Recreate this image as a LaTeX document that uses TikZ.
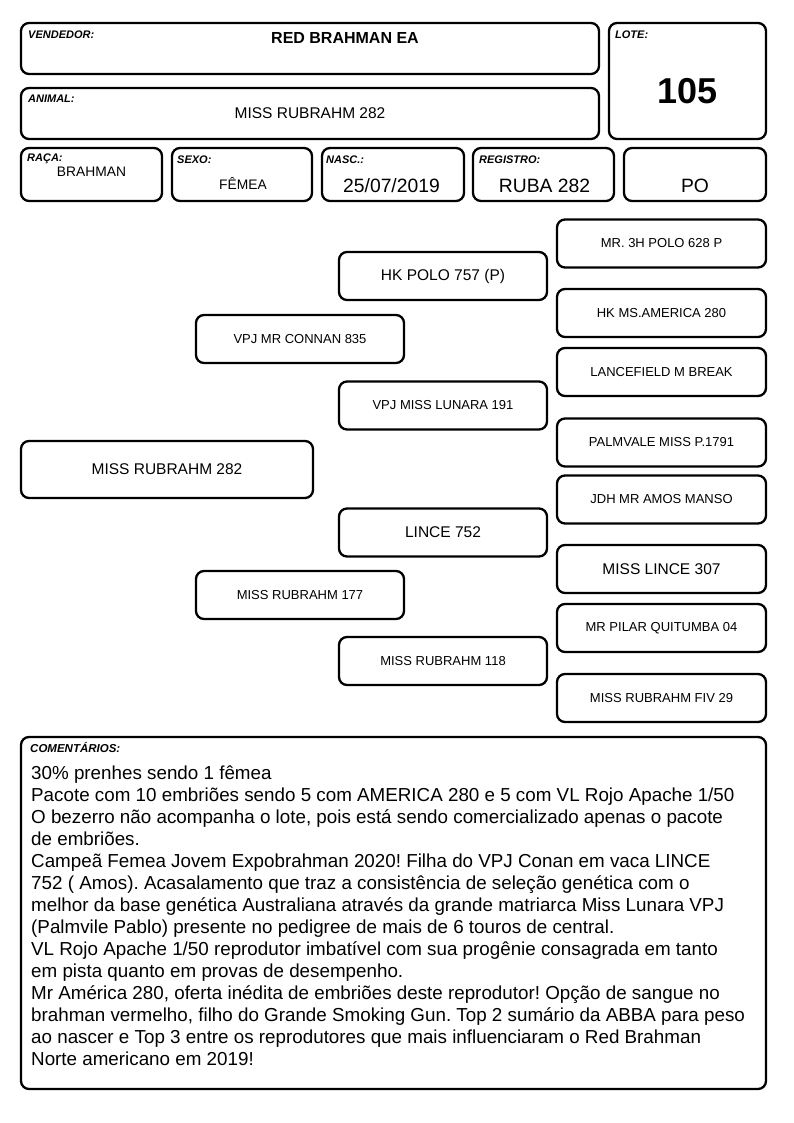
\documentclass[tikz,border=0pt]{standalone}
\usepackage{fontspec}
\setmainfont{Liberation Sans}
\usetikzlibrary{positioning}
\frenchspacing

\tikzset{
  caixa/.style={draw, line width=2.3pt, rounded corners=8pt,
    inner sep=0pt, outer sep=0pt},
  rotulo/.style={anchor=base west, inner sep=0pt,
    font=\fontsize{11}{13}\selectfont\bfseries\itshape},
  valor/.style={inner sep=0pt, font=\fontsize{19.3}{22}\selectfont},
  ped/.style={caixa, minimum width=208pt, minimum height=48pt,
    font=\fontsize{13}{15}\selectfont},
  pedg/.style={ped, font=\fontsize{15.5}{18}\selectfont},
}

\begin{document}
\begin{tikzpicture}[x=1pt,y=-1pt]
    \useasboundingbox (0,0) rectangle (794,1123);
    % cabecalho
    \node[caixa, minimum width=578pt, minimum height=51pt] (vendedor) at (310,48.5) {};
    \node[caixa, minimum width=157pt, minimum height=116pt] (lote) at (687.5,81) {};
    \node[caixa, minimum width=578pt, minimum height=51pt] (animal) at (310,113.5) {};
    \node[caixa, minimum width=141pt, minimum height=53pt] (raca) at (91.5,174.5) {};
    \node[caixa, minimum width=140pt, minimum height=53pt] (sexo) at (242,174.5) {};
    \node[caixa, minimum width=142pt, minimum height=53pt] (nasc) at (393,174.5) {};
    \node[caixa, minimum width=141pt, minimum height=53pt] (registro) at (543.5,174.5) {};
    \node[caixa, minimum width=142pt, minimum height=53pt] (po) at (695,174.5) {};
    %
    \node[rotulo] (lvendedor) at (28,38.5) {VENDEDOR:};
    \node[rotulo] (llote) at (615,38.5) {LOTE:};
    \node[rotulo] (lanimal) at (28,102.5) {ANIMAL:};
    \node[rotulo] (lraca) at (27,162) {RAÇA:};
    \node[rotulo] (lsexo) at (177,163.5) {SEXO:};
    \node[rotulo] (lnasc) at (326,163.5) {NASC.:};
    \node[rotulo] (lregistro) at (479,163.5) {REGISTRO:};
    %
    \node[valor, font=\fontsize{16}{18}\selectfont\bfseries] (tvendedor) at (345,37.5) {RED BRAHMAN EA};
    \node[valor, font=\fontsize{36}{40}\selectfont\bfseries] (tlote) at (687.5,91) {105};
    \node[valor, font=\fontsize{15.5}{18}\selectfont] (tanimal) at (310,113) {MISS RUBRAHM 282};
    \node[valor, font=\fontsize{13.8}{16}\selectfont] (traca) at (91.5,172) {BRAHMAN};
    \node[valor, font=\fontsize{13.8}{16}\selectfont] (tsexo) at (243,183.5) {FÊMEA};
    \node[valor] (tnasc) at (391.5,186) {25/07/2019};
    \node[valor] (tregistro) at (544.5,186) {RUBA 282};
    \node[valor] (tpo) at (695,186) {PO};
    % pedigree
    \node[pedg, minimum width=292pt, minimum height=57pt] (filha) at (167,469.5) {MISS RUBRAHM 282};
    \node[ped] (pai) at (300,339) {VPJ MR CONNAN 835};
    \node[ped] (mae) at (300,595) {MISS RUBRAHM 177};
    \node[pedg] (avop) at (443,276) {HK POLO 757 (P)};
    \node[ped] (avap) at (443,405.5) {VPJ MISS LUNARA 191};
    \node[pedg] (avom) at (443,532.5) {LINCE 752};
    \node[ped] (avam) at (443,661) {MISS RUBRAHM 118};
    \node[ped, minimum width=209pt] (bis1) at (661.5,243.5) {MR. 3H POLO 628 P};
    \node[ped, minimum width=209pt] (bis2) at (661.5,313) {HK MS.AMERICA 280};
    \node[ped, minimum width=209pt] (bis3) at (661.5,372) {LANCEFIELD M BREAK};
    \node[ped, minimum width=209pt] (bis4) at (661.5,442.5) {PALMVALE MISS P.1791};
    \node[ped, minimum width=209pt] (bis5) at (661.5,499.5) {JDH MR AMOS MANSO};
    \node[pedg, minimum width=209pt] (bis6) at (661.5,569) {MISS LINCE 307};
    \node[ped, minimum width=209pt] (bis7) at (661.5,628) {MR PILAR QUITUMBA 04};
    \node[ped, minimum width=209pt] (bis8) at (661.5,698) {MISS RUBRAHM FIV 29};
    % comentarios
    \node[caixa, minimum width=745pt, minimum height=352pt] (comentarios) at (393.5,913) {};
    \node[rotulo, font=\fontsize{11.5}{13}\selectfont\bfseries\itshape] (lcomentarios) at (30,752) {COMENTÁRIOS:};
    \node[anchor=north west, inner sep=0pt, align=left,
      font=\fontsize{18.8}{22}\selectfont] (tcomentarios) at (31,765.5) {%
      30\% prenhes sendo 1 fêmea\\
      Pacote com 10 embriões sendo 5 com AMERICA 280 e 5 com VL Rojo Apache 1/50\\
      O bezerro não acompanha o lote, pois está sendo comercializado apenas o pacote\\
      de embriões.\\
      Campeã Femea Jovem Expobrahman 2020! Filha do VPJ Conan em vaca LINCE\\
      752 ( Amos). Acasalamento que traz a consistência de seleção genética com o\\
      melhor da base genética Australiana através da grande matriarca Miss Lunara VPJ\\
      (Palmvile Pablo) presente no pedigree de mais de 6 touros de central.\\
      VL Rojo Apache 1/50 reprodutor imbatível com sua progênie consagrada em tanto\\
      em pista quanto em provas de desempenho.\\
      Mr América 280, oferta inédita de embriões deste reprodutor! Opção de sangue no\\
      brahman vermelho, filho do Grande Smoking Gun. Top 2 sumário da ABBA para peso\\
      ao nascer e Top 3 entre os reprodutores que mais influenciaram o Red Brahman\\
      Norte americano em 2019!};
  \end{tikzpicture}
\end{document}
